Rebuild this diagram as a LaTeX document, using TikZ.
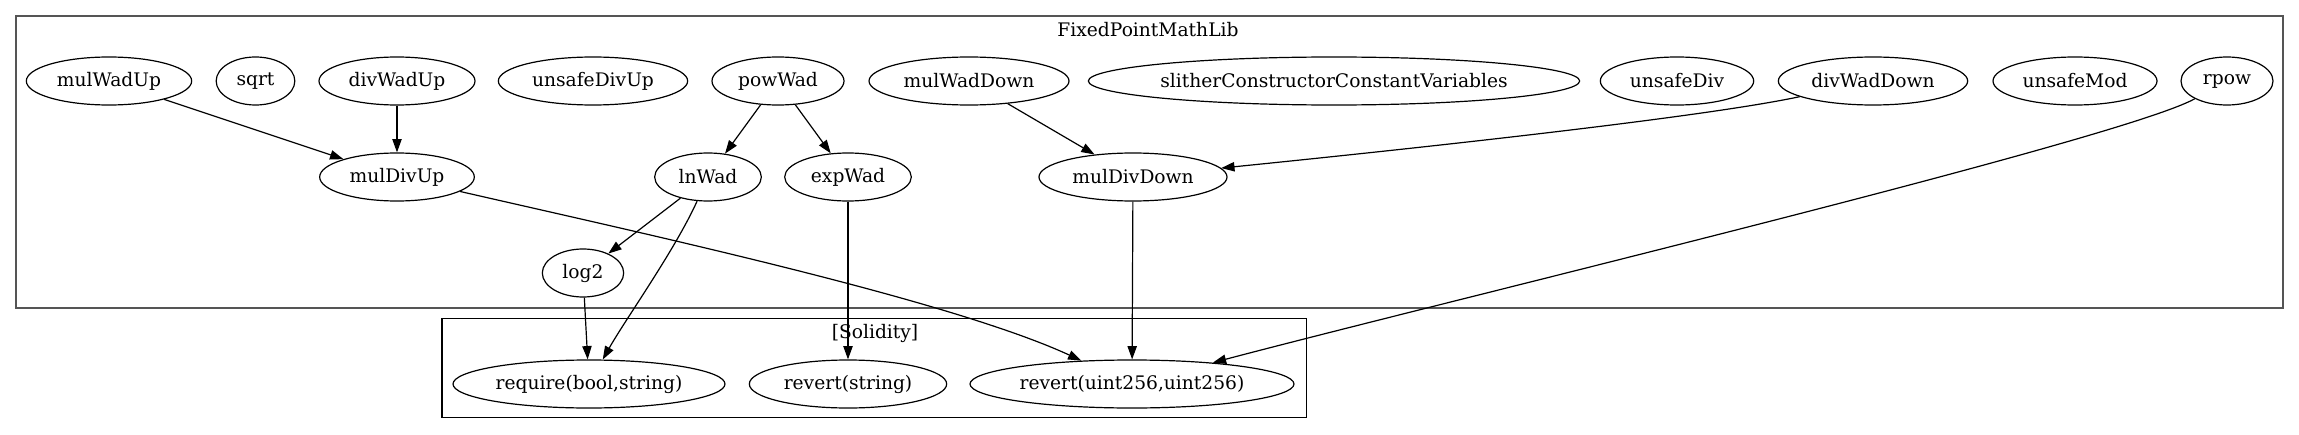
\documentclass[tikz,border=0pt]{standalone}
\usepackage{fontspec}
\setmainfont{DejaVu Serif}
\usetikzlibrary{shapes.geometric,arrows.meta}
\definecolor{clustergray}{HTML}{555555}
\tikzset{
  fn/.style={ellipse, draw=black, line width=0.9pt, inner sep=0pt, minimum height=36pt,
    font=\fontsize{14pt}{16pt}\selectfont},
  edge/.style={line width=0.9pt, draw=black, -{Triangle[length=10pt,width=7pt]}},
  outerbox/.style={draw=clustergray, line width=1.5pt},
  innerbox/.style={draw=black, line width=1pt},
  clabel/.style={font=\fontsize{14pt}{16pt}\selectfont, inner sep=0pt}
}
\begin{document}
\begin{tikzpicture}[x=0.75pt,y=-0.75pt]
\useasboundingbox (0,0) rectangle (2299,435);
% clusters
\draw[outerbox] (15.7,15.7) rectangle (2283,307.7);
\node[clabel] (title1) at (1148,30) {FixedPointMathLib};
\draw[innerbox] (442,318.3) rectangle (1306.5,417.7);
\node[clabel] (title2) at (875,333) {[Solidity]};
% top row
\node[fn, minimum width=124pt] (mulWadUp) at (109,81) {mulWadUp};
\node[fn, minimum width=59pt] (sqrt) at (255.5,81) {sqrt};
\node[fn, minimum width=117pt] (divWadUp) at (397,81) {divWadUp};
\node[fn, minimum width=142pt] (unsafeDivUp) at (593,81) {unsafeDivUp};
\node[fn, minimum width=99pt] (powWad) at (778,81) {powWad};
\node[fn, minimum width=150pt] (mulWadDown) at (969,81) {mulWadDown};
\node[fn, minimum width=363pt] (slither) at (1334,81) {slitherConstructorConstantVariables};
\node[fn, minimum width=115pt] (unsafeDiv) at (1677,81) {unsafeDiv};
\node[fn, minimum width=142pt] (divWadDown) at (1873,81) {divWadDown};
\node[fn, minimum width=123pt] (unsafeMod) at (2075,81) {unsafeMod};
\node[fn, minimum width=69pt] (rpow) at (2227,81) {rpow};
% middle row
\node[fn, minimum width=116pt] (mulDivUp) at (397,177) {mulDivUp};
\node[fn, minimum width=80pt] (lnWad) at (708,177) {lnWad};
\node[fn, minimum width=95pt] (expWad) at (848,177) {expWad};
\node[fn, minimum width=141pt] (mulDivDown) at (1133,177) {mulDivDown};
\node[fn, minimum width=61pt] (log2) at (583,273) {log2};
% solidity
\node[fn, minimum width=204pt] (require) at (589,384) {require(bool,string)};
\node[fn, minimum width=148pt] (revertString) at (848,384) {revert(string)};
\node[fn, minimum width=243pt] (revertUint) at (1132,384) {revert(uint256,uint256)};
% edges
\draw[edge] (mulWadUp) -- (mulDivUp);
\draw[edge] (divWadUp) -- (mulDivUp);
\draw[edge] (powWad) -- (lnWad);
\draw[edge] (powWad) -- (expWad);
\draw[edge] (mulWadDown) -- (mulDivDown);
\draw[edge] (divWadDown) .. controls (1700,118) and (1400,150) .. (mulDivDown);
\draw[edge] (rpow) .. controls (2120,140) and (1450,300) .. (revertUint);
\draw[edge] (mulDivUp) .. controls (650,235) and (950,300) .. (revertUint);
\draw[edge] (lnWad) -- (log2);
\draw[edge] (lnWad) .. controls (675,250) and (625,320) .. (require);
\draw[edge] (log2) -- (require);
\draw[edge] (expWad) -- (revertString);
\draw[edge] (mulDivDown) -- (revertUint);
\end{tikzpicture}
\end{document}
